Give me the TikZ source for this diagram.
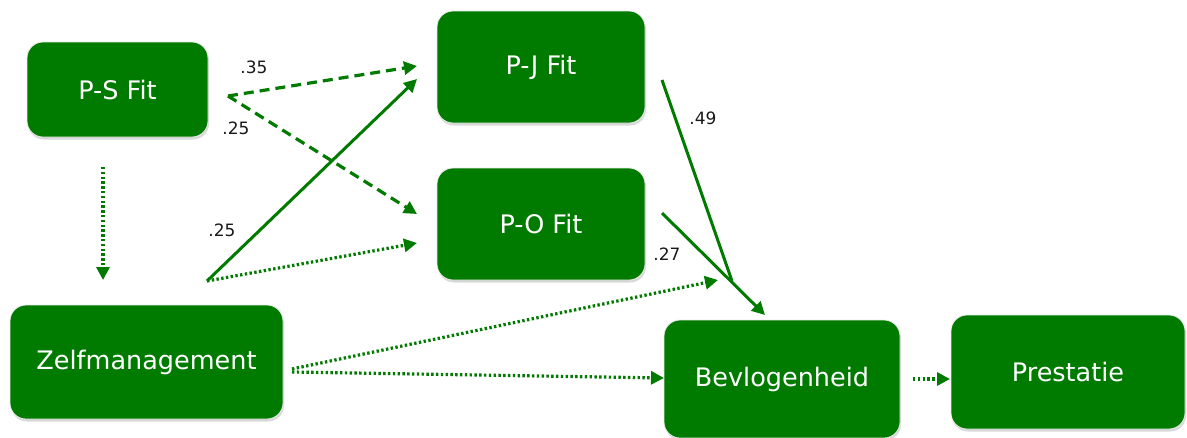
\documentclass[tikz,border=0pt]{standalone}
\usepackage{fontspec}
\setmainfont{DejaVu Sans}
\usetikzlibrary{arrows.meta,shadows}
\definecolor{fitgreen}{RGB}{0,123,0}
\begin{document}
\begin{tikzpicture}[x=1pt,y=-1pt,
  box/.style={fill=fitgreen, draw=white!85!gray, line width=0.8pt, rounded corners=16pt,
    text=white, font=\fontsize{25.5}{30}\selectfont, inner sep=0pt,
    drop shadow={shadow xshift=1pt, shadow yshift=-2.5pt, fill=black!25, opacity=0.6}},
  lbl/.style={text=black!90, font=\fontsize{17}{20}\selectfont, inner sep=0pt},
  tip/.style={-{Triangle[length=13pt,width=13pt]}},
  solidc/.style={draw=fitgreen, line width=3pt},
  dashc/.style={draw=fitgreen, line width=3.2pt, dash pattern=on 10pt off 6pt},
  dotc/.style={draw=fitgreen, line width=3.2pt, dash pattern=on 2.4pt off 2.4pt}]
\useasboundingbox (0,0) rectangle (1187,437);
% boxes
\node[box, minimum width=181pt, minimum height=95pt] (ps) at (117.5,89.5) {P-S Fit};
\node[box, minimum width=208pt, minimum height=112pt] (pj) at (541,67) {P-J Fit};
\node[box, minimum width=208pt, minimum height=112pt] (po) at (541,224) {P-O Fit};
\node[box, minimum width=273pt, minimum height=114pt] (zm) at (146.5,362) {Zelfmanagement};
\node[box, minimum width=236pt, minimum height=118pt] (bv) at (782,379) {Bevlogenheid};
\node[box, minimum width=234pt, minimum height=114pt] (pr) at (1068,372) {Prestatie};
% connector end points
\coordinate (psout) at (228,96);
\coordinate (pjin1) at (417,66);
\coordinate (pjin2) at (417,79);
\coordinate (poin1) at (417,214);
\coordinate (poin2) at (417,243);
\coordinate (psdown1) at (103,167);
\coordinate (psdown2) at (103,280);
\coordinate (zmup) at (207,281);
\coordinate (pjout) at (662,80);
\coordinate (poout) at (662,213);
\coordinate (join) at (732,281);
\coordinate (bvtop) at (765,315);
\coordinate (zmout1) at (292,369);
\coordinate (zmout2) at (292,372);
\coordinate (joinin) at (718,280);
\coordinate (bvin) at (664,378);
\coordinate (bvout) at (913,379);
\coordinate (prin) at (950,379);
% connectors
\draw[dashc, tip] (psout) -- (pjin1);
\draw[dashc, tip] (psout) -- (poin1);
\draw[dotc, tip] (psdown1) -- (psdown2);
\draw[solidc, tip] (zmup) -- (pjin2);
\draw[dotc, tip] (zmup) -- (poin2);
\draw[solidc] (pjout) -- (join);
\draw[solidc, tip] (poout) -- (bvtop);
\draw[dotc, tip] (zmout1) -- (joinin);
\draw[dotc, tip] (zmout2) -- (bvin);
\draw[dotc, tip] (bvout) -- (prin);
% labels
\node[lbl] (l35) at (254,67) {.35};
\node[lbl] (l25a) at (236,128) {.25};
\node[lbl] (l25b) at (222,230) {.25};
\node[lbl] (l49) at (703,118) {.49};
\node[lbl] (l27) at (667,254) {.27};
\end{tikzpicture}
\end{document}
